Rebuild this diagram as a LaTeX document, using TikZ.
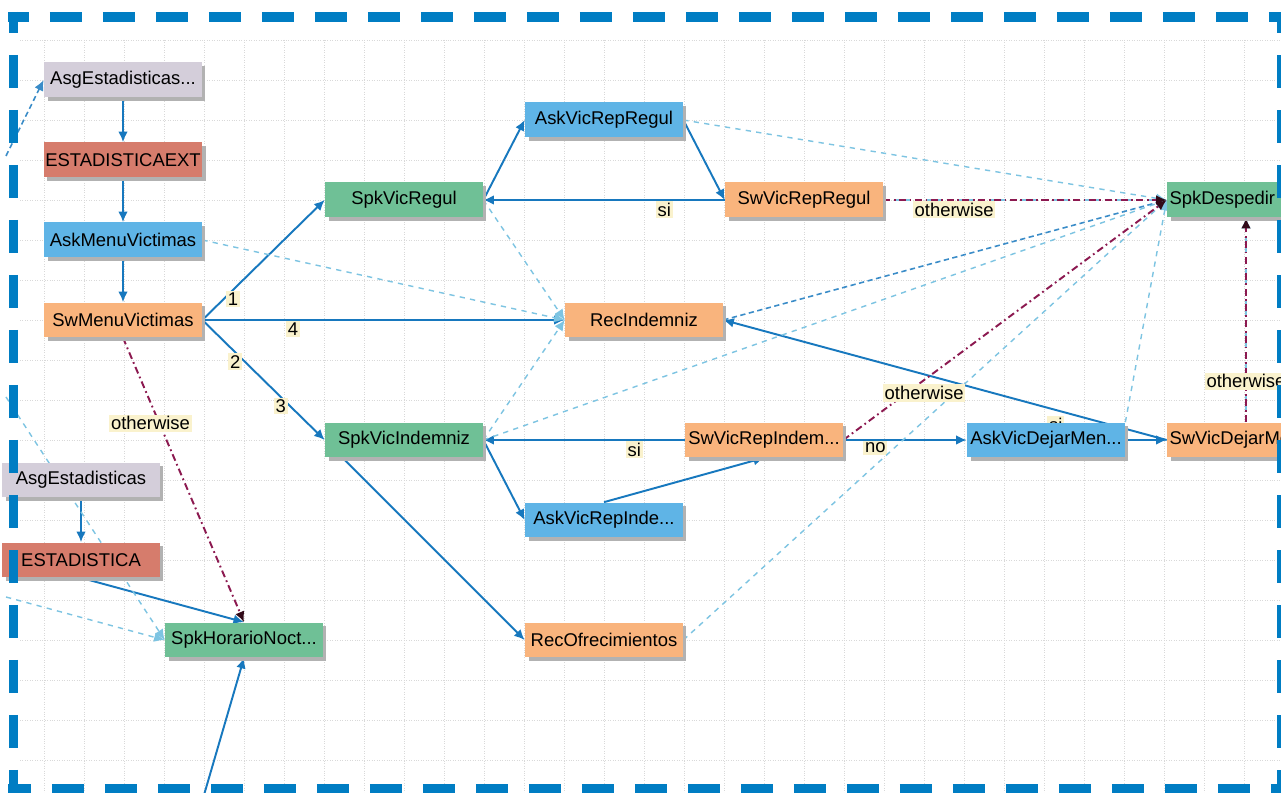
\documentclass[tikz,border=0pt]{standalone}
\usepackage{fontspec}
\setmainfont{Liberation Sans}
\usetikzlibrary{arrows.meta,shadows}
\definecolor{spkgreen}{RGB}{111,192,150}
\definecolor{askblue}{RGB}{95,180,230}
\definecolor{sworange}{RGB}{249,180,125}
\definecolor{asglila}{RGB}{212,206,218}
\definecolor{estred}{RGB}{214,124,108}
\definecolor{flowblue}{RGB}{23,120,190}
\definecolor{hintblue}{RGB}{125,196,226}
\definecolor{othmag}{RGB}{140,25,80}
\definecolor{tipdark}{RGB}{50,10,25}
\definecolor{labyellow}{RGB}{250,242,205}
\definecolor{framblue}{RGB}{0,125,195}
\pgfdeclarelayer{grid}
\pgfdeclarelayer{edges}
\pgfsetlayers{grid,edges,main}
\tikzset{
  nbox/.style={rectangle, minimum width=3.16cm, minimum height=.7cm, inner sep=1pt,
    font=\fontsize{10.5}{12}\selectfont,
    general shadow={fill=black!30, shadow xshift=.07cm, shadow yshift=-.07cm}},
  spk/.style={nbox, fill=spkgreen},
  ask/.style={nbox, fill=askblue},
  sw/.style={nbox, fill=sworange},
  asg/.style={nbox, fill=asglila},
  est/.style={nbox, fill=estred},
  flow/.style={->, flowblue, line width=1.1pt},
  hint/.style={->, hintblue, dashed, line width=.8pt},
  hintdark/.style={->, flowblue!85, dash pattern=on 3pt off 2pt, line width=.9pt},
  otherw/.style={-{Latex[length=6pt,width=5.5pt,color=tipdark]}, othmag,
    dash pattern=on 4pt off 2pt on 1pt off 2pt, line width=1.1pt},
  lab/.style={fill=labyellow, inner sep=1pt, text=black, font=\fontsize{10.5}{12}\selectfont},
  edgeframe/.style={framblue, line width=.2cm}
}
\begin{document}
\begin{tikzpicture}[x=.02cm, y=-.02cm, >={Latex[length=6pt,width=5.5pt]}]
\useasboundingbox (0,0) rectangle (1281,793);
\begin{pgfonlayer}{grid}
\fill[white] (0,0) rectangle (1281,793);
\foreach \gx in {44,84,...,1244} \draw[gray!30, densely dotted] (\gx,40) -- (\gx,793);
\foreach \gy in {40,80,...,760} \draw[gray!30, densely dotted] (20,\gy) -- (1281,\gy);
\end{pgfonlayer}

% left column
\node[asg] (asgA) at (123,80) {AsgEstadisticas...};
\node[est] (estExt) at (123,160) {ESTADISTICAEXT};
\node[ask] (askMenu) at (123,240) {AskMenuVictimas};
\node[sw] (swMenu) at (123,320) {SwMenuVictimas};
\node[asg] (asgB) at (81,480) {AsgEstadisticas};
\node[est] (estB) at (81,560) {ESTADISTICA};
\node[spk] (spkHor) at (244,640) {SpkHorarioNoct...};
% middle
\node[spk] (spkRegul) at (404,200) {SpkVicRegul};
\node[ask] (askRepRegul) at (604,120) {AskVicRepRegul};
\node[sw] (swRepRegul) at (804,200) {SwVicRepRegul};
\node[sw] (recIndem) at (644,320) {RecIndemniz};
\node[spk] (spkIndem) at (404,440) {SpkVicIndemniz};
\node[sw] (swRepIndem) at (764,440) {SwVicRepIndem...};
\node[ask] (askRepInde) at (604,520) {AskVicRepInde...};
\node[sw] (recOfrec) at (604,640) {RecOfrecimientos};
% right
\node[ask] (askDejar) at (1046,440) {AskVicDejarMen...};
\node[spk, text width=3.06cm, align=left] (spkDesp) at (1246,200) {SpkDespedir};
\node[sw, text width=3.06cm, align=left] (swDejar) at (1246,440) {SwVicDejarMe};

\begin{pgfonlayer}{edges}
\coordinate (leftIn) at (6,156);
\coordinate (leftA) at (6,397);
\coordinate (leftB) at (6,597);
\coordinate (botIn) at (204,795);
% solid
\draw[flow] (asgA) -- (estExt);
\draw[flow] (estExt) -- (askMenu);
\draw[flow] (askMenu) -- (swMenu);
\draw[flow] (swMenu.east) -- (spkRegul.west) node[lab,pos=.25,below]{1};
\draw[flow] (swMenu.east) -- (recIndem.west) node[lab,pos=.25,below]{4};
\draw[flow] (swMenu.east) -- (spkIndem.west) node[lab,pos=.27,below]{2} node[lab,pos=.64,below]{3};
\draw[flow] (spkRegul.east) -- (askRepRegul.west);
\draw[flow] (askRepRegul.east) -- (swRepRegul.west);
\draw[flow] (swRepRegul.west) -- (spkRegul.east) node[lab,pos=.25,below]{si};
\draw[flow] (spkIndem.east) -- (askRepInde.west);
\draw[flow] (askRepInde.north) -- (swRepIndem.south);
\draw[flow] (swRepIndem.west) -- (spkIndem.east) node[lab,pos=.25,below]{si};
\draw[flow] ([xshift=.36cm]spkIndem.south west) -- (recOfrec.west);
\draw[flow] (swRepIndem.east) -- (askDejar.west) node[lab,pos=.26,below]{no};
\draw[flow] (askDejar.east) -- (swDejar.west);
\draw[flow] (swDejar.west) -- (recIndem.east) node[lab,pos=.25,below,yshift=-3pt]{si};
\draw[flow] (asgB) -- (estB);
\draw[flow] (estB.south) -- (spkHor.north);
\draw[flow] (botIn) -- (spkHor.south);
% dashed
\draw[hintdark] (leftIn) -- (asgA.west);
\draw[hintdark] (recIndem.east) -- (spkDesp.west);
\draw[hint] (askMenu.east) -- (recIndem.west);
\draw[hint] (spkRegul.east) -- (recIndem.west);
\draw[hint] (spkIndem.east) -- (recIndem.west);
\draw[hint] (askRepRegul.east) -- (spkDesp.west);
\draw[hint] (spkIndem.east) -- (spkDesp.west);
\draw[hint] (recOfrec.east) -- (spkDesp.west);
\draw[hint] (askDejar.north east) -- (spkDesp.west);
\draw[hint] (swRepRegul.east) -- (spkDesp.west);
\draw[hint] (swDejar.north) -- (spkDesp.south);
\draw[hint] (leftA) -- (spkHor.west);
\draw[hint] (leftB) -- (spkHor.west);
% otherwise
\draw[otherw] (swMenu.south) -- (spkHor.north) node[lab,pos=.3,xshift=-5pt]{otherwise};
\draw[otherw] (swRepRegul.east) -- (spkDesp.west) node[lab,pos=.25,below]{otherwise};
\draw[otherw] (swRepIndem.east) -- (spkDesp.west) node[lab,pos=.25,below,yshift=-2pt]{otherwise};
\draw[otherw] (swDejar.north) -- (spkDesp.south) node[lab,pos=.2]{otherwise};
\end{pgfonlayer}

% frame
\draw[edgeframe, dash pattern=on .64cm off .42cm, dash phase=.22cm] (8,17) -- (1290,17);
\draw[edgeframe, dash pattern=on .64cm off .42cm, dash phase=.18cm] (8,789) -- (1290,789);
\draw[edgeframe, dash pattern=on .66cm off .44cm, dash phase=.24cm] (13.5,12) -- (13.5,800);
\draw[edgeframe, dash pattern=on .66cm off .44cm, dash phase=.24cm] (1282,12) -- (1282,800);
\end{tikzpicture}
\end{document}
